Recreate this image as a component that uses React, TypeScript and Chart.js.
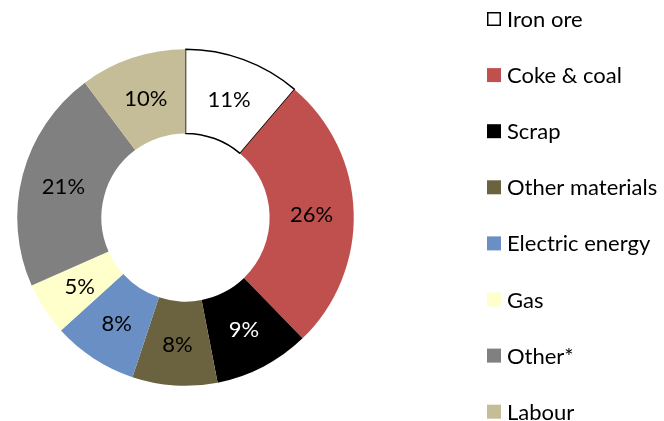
import React, { useEffect, useRef } from "react";
import { Chart, registerables } from "chart.js";

Chart.register(...registerables);

const categories = [
  "Iron ore",
  "Coke & coal",
  "Scrap",
  "Other materials",
  "Electric energy",
  "Gas",
  "Other*",
  "Labour",
];
const shares = [11, 26, 9, 8, 8, 5, 21, 10];
const sliceColors = [
  "#FFFFFF",
  "#C0504D",
  "#000000",
  "#6B623F",
  "#6A8FC4",
  "#FFFFCC",
  "#808080",
  "#C4BD97",
];
const labelColors = ["#000", "#000", "#FFF", "#000", "#000", "#000", "#000", "#000"];
const borderWidths = [1.5, 0, 0, 0, 0, 0, 0, 0];

const FONT_FAMILY = "Lato, 'Open Sans', sans-serif";
const FONT_SIZE = 22;

const pctPlugin = {
  id: "pctLabels",
  afterDatasetsDraw(chart: any) {
    const ctx = chart.ctx;
    const meta = chart.getDatasetMeta(0);
    ctx.save();
    ctx.font = `${FONT_SIZE}px ${FONT_FAMILY}`;
    ctx.textAlign = "center";
    ctx.textBaseline = "middle";
    meta.data.forEach((arc: any, i: number) => {
      const p = arc.tooltipPosition();
      ctx.fillStyle = labelColors[i];
      ctx.fillText(`${shares[i]}%`, p.x, p.y + 1);
    });
    ctx.restore();
  },
};

const sideLegendPlugin = {
  id: "sideLegend",
  afterDraw(chart: any) {
    const ctx = chart.ctx;
    const left = 487;
    const top = 19;
    const step = 56.1;
    const box = 14;
    ctx.save();
    ctx.font = `${FONT_SIZE}px ${FONT_FAMILY}`;
    ctx.textAlign = "left";
    ctx.textBaseline = "middle";
    categories.forEach((name, i) => {
      const cy = top + i * step;
      ctx.fillStyle = sliceColors[i];
      ctx.fillRect(left, cy - box / 2, box, box);
      if (borderWidths[i] > 0) {
        ctx.strokeStyle = "#000";
        ctx.lineWidth = 1.5;
        ctx.strokeRect(left + 0.75, cy - box / 2 + 0.75, box - 1.5, box - 1.5);
      }
      ctx.fillStyle = "#000";
      ctx.fillText(name, left + 20, cy + 1);
    });
    ctx.restore();
  },
};

export default function App() {
  const canvasRef = useRef<HTMLCanvasElement | null>(null);

  useEffect(() => {
    if (!canvasRef.current) return;
    const chart = new Chart(canvasRef.current, {
      type: "doughnut",
      data: {
        labels: categories,
        datasets: [
          {
            data: shares,
            backgroundColor: sliceColors,
            borderColor: "#000000",
            borderWidth: borderWidths,
            hoverOffset: 0,
          },
        ],
      },
      options: {
        responsive: false,
        animation: false,
        cutout: "50%",
        layout: {
          padding: { left: 16.5, top: 48.5, right: 309.5, bottom: 34.5 },
        },
        plugins: {
          legend: { display: false },
          tooltip: { enabled: false },
        },
      },
      plugins: [pctPlugin, sideLegendPlugin],
    });
    return () => chart.destroy();
  }, []);

  return (
    <div style={{ position: "fixed", left: 0, top: 0, width: 664, height: 421, background: "#fff" }}>
      <canvas ref={canvasRef} width={664} height={421} />
    </div>
  );
}
